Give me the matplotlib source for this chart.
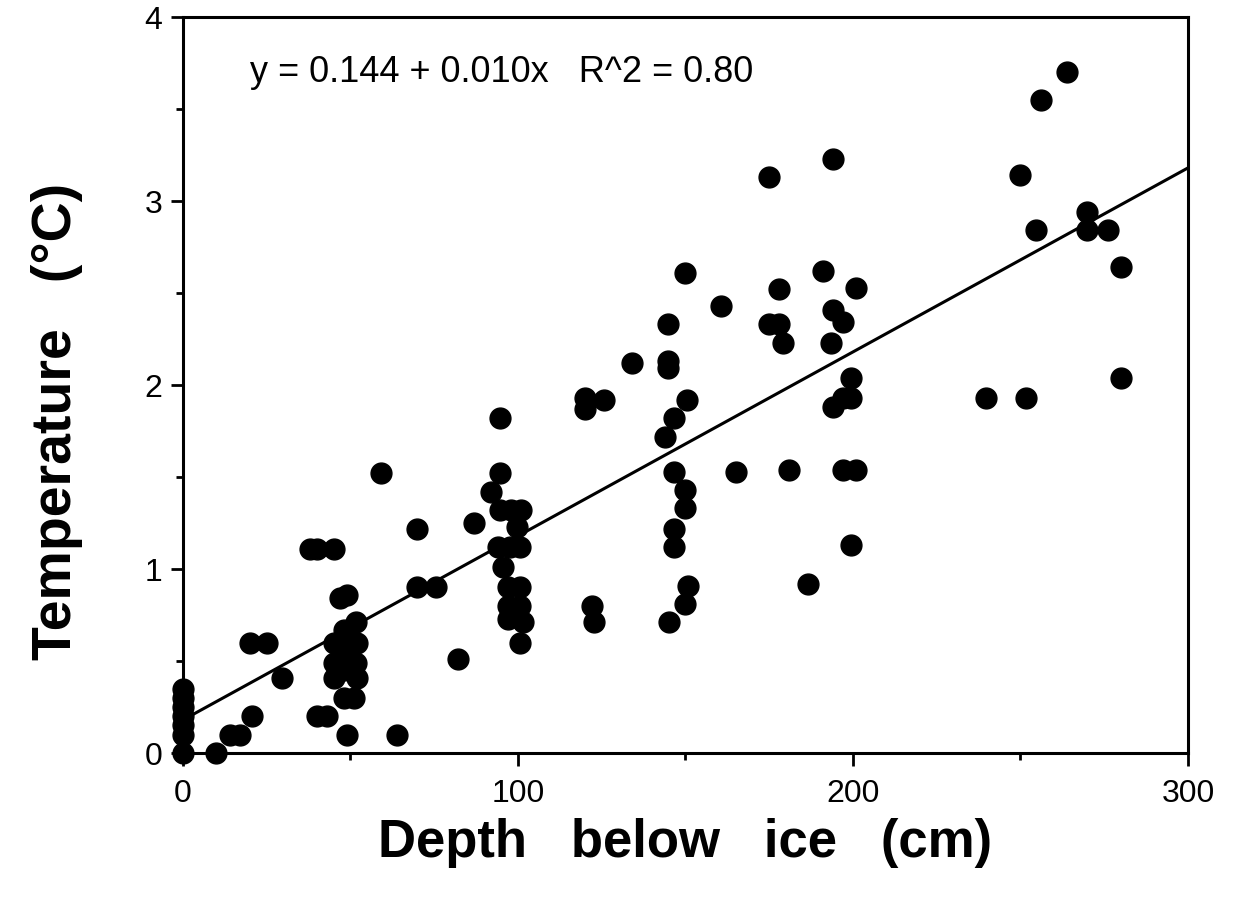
import matplotlib.pyplot as plt
from matplotlib.ticker import MultipleLocator

# depth below ice (cm) and water temperature (deg C)
depth = [0, 0, 0, 0, 0, 0, 0,
         10, 14, 17, 20.5, 20, 25, 29.5, 38, 40, 45, 40, 43, 49, 64, 47, 49,
         51.5, 48, 45, 52, 48, 45, 51.5, 48, 45, 52, 48, 51, 50,
         59, 70, 70, 75.5, 82, 87,
         94.6, 94.6, 92, 94.6, 98, 101, 99.7, 94, 97.6, 100.6, 95.5,
         97, 100.6, 97, 100.6, 97, 101.5, 100.6,
         120, 120, 125.7, 134, 122, 122.7,
         150, 160.6, 144.8, 144.8, 144.8, 150.4, 146.6, 144, 146.6, 165,
         150, 150, 146.6, 146.6, 150.7, 150, 145,
         175, 194, 178, 175, 178, 179, 181, 191, 193.5, 194, 197, 201,
         194, 197, 199.5, 199.5, 197, 201, 199.5, 186.6,
         264, 256, 250, 270, 254.6, 270, 276, 280, 239.7, 251.6, 280]
temp = [0, 0.1, 0.15, 0.2, 0.25, 0.3, 0.35,
        0, 0.1, 0.1, 0.2, 0.6, 0.6, 0.41, 1.11, 1.11, 1.11, 0.2, 0.2, 0.1, 0.1, 0.84, 0.86,
        0.71, 0.67, 0.6, 0.6, 0.55, 0.49, 0.49, 0.45, 0.41, 0.41, 0.3, 0.3, 0.62,
        1.52, 1.22, 0.9, 0.9, 0.51, 1.25,
        1.82, 1.52, 1.42, 1.32, 1.32, 1.32, 1.23, 1.12, 1.12, 1.12, 1.01,
        0.9, 0.9, 0.8, 0.8, 0.73, 0.71, 0.6,
        1.93, 1.87, 1.92, 2.12, 0.8, 0.71,
        2.61, 2.43, 2.33, 2.13, 2.09, 1.92, 1.82, 1.72, 1.53, 1.53,
        1.43, 1.33, 1.22, 1.12, 0.91, 0.81, 0.71,
        3.13, 3.23, 2.52, 2.33, 2.33, 2.23, 1.54, 2.62, 2.23, 2.41, 2.34, 2.53,
        1.88, 1.93, 1.93, 2.04, 1.54, 1.54, 1.13, 0.92,
        3.70, 3.55, 3.14, 2.94, 2.84, 2.84, 2.84, 2.64, 1.93, 1.93, 2.04]

# fitted line as drawn in the figure
fit_x = [0, 300]
fit_y = [0.18, 3.18]
fit_text = 'y = 0.144 + 0.010x   R^2 = 0.80'

plt.rcParams['font.family'] = ['Liberation Sans', 'DejaVu Sans']

fig = plt.figure(figsize=(12.33, 9.24), dpi=100)
ax = fig.add_axes([0.1484, 0.185, 0.8151, 0.7966])

ax.plot(fit_x, fit_y, color='black', linewidth=2.2)
ax.plot(depth, temp, linestyle='none', marker='o', markersize=15,
        color='black', clip_on=False, zorder=3)

ax.text(20, 3.70, fit_text, fontsize=26, va='center', ha='left')

ax.set_xlim(0, 300)
ax.set_ylim(0, 4)
ax.xaxis.set_major_locator(MultipleLocator(100))
ax.xaxis.set_minor_locator(MultipleLocator(50))
ax.yaxis.set_major_locator(MultipleLocator(1))
ax.yaxis.set_minor_locator(MultipleLocator(0.5))
ax.tick_params(which='major', length=9, width=2, labelsize=23, pad=6)
ax.tick_params(which='minor', length=5, width=2)
ax.tick_params(axis='x', pad=10)
for s in ax.spines.values():
    s.set_linewidth(2.2)

ax.set_xlabel('Depth   below   ice   (cm)', fontsize=38, fontweight='bold', labelpad=6)
ax.set_ylabel('Temperature   (°C)', fontsize=40, fontweight='bold', labelpad=44, y=0.45)

fig.savefig('out.png', dpi=100)
